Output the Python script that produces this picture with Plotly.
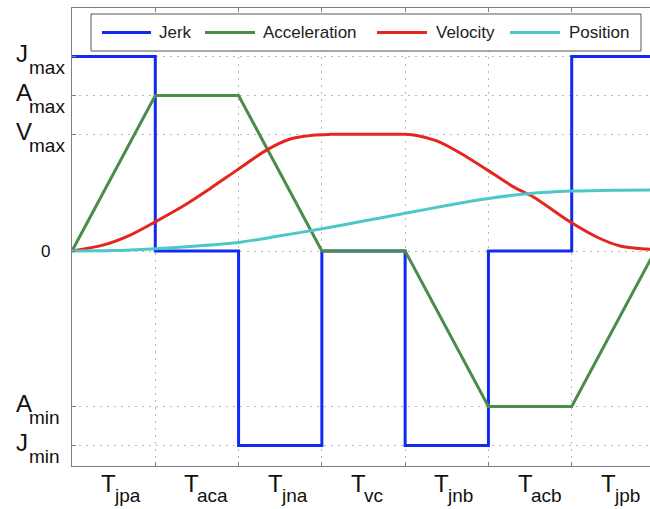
import plotly.graph_objects as go

# ---- data ----
segments = ["jpa", "aca", "jna", "vc", "jnb", "acb", "jpb"]
seg_bounds = [0, 1, 2, 3, 4, 5, 6, 7]

jerk_t = [0, 1, 2, 3, 4, 5, 6, 7]
jerk_v = [5, 0, -5, 0, -5, 0, 5, 5]

acc_t = [0, 1, 2, 3, 4, 5, 6, 7]
acc_v = [0, 4, 4, 0, 0, -4, -4, 0]

vel_t = [0, 0.37, 0.7, 1.0, 1.33, 1.66, 1.98, 2.34, 2.62, 2.89, 3.1, 3.6, 4.0,
         4.14, 4.38, 4.66, 4.99, 5.30, 5.54, 5.98, 6.30, 6.58, 6.9, 7.0]
vel_v = [0, 0.15, 0.41, 0.75, 1.15, 1.61, 2.08, 2.60, 2.88, 2.98, 3.0, 3.0, 3.0,
         2.97, 2.83, 2.52, 2.08, 1.65, 1.39, 0.75, 0.36, 0.13, 0.05, 0.04]

pos_t = [0, 0.5, 1, 1.5, 2, 2.5, 3, 3.5, 4, 4.5, 5, 5.5, 6, 6.5, 7]
pos_v = [0, 0.01, 0.06, 0.13, 0.22, 0.39, 0.57, 0.77, 0.97, 1.17, 1.35, 1.48, 1.54, 1.565, 1.57]

ytick_vals = [5, 4, 3, 0, -4, -5]
ytick_main = ["J", "A", "V", "0", "A", "J"]
ytick_sub = ["max", "max", "max", "", "min", "min"]

names = ["Jerk", "Acceleration", "Velocity", "Position"]
colors = ["#1229f2", "#4a8c4a", "#e5261f", "#4cc8c8"]

# ---- geometry ----
W, H = 650, 509
L, R, T, B = 72, 0, 8, 43
PW, PH = W - L - R, H - T - B
XR = [0, 6.94]
YR = [-5.53, 6.25]


def px(xp):
    return (xp - L) / PW


def py(yp):
    return (H - B - yp) / PH


fig = go.Figure()
fig.add_trace(go.Scatter(x=jerk_t, y=jerk_v, mode="lines", name=names[0],
                         line=dict(color=colors[0], width=3, shape="hv")))
fig.add_trace(go.Scatter(x=acc_t, y=acc_v, mode="lines", name=names[1],
                         line=dict(color=colors[1], width=3)))
fig.add_trace(go.Scatter(x=vel_t, y=vel_v, mode="lines", name=names[2],
                         line=dict(color=colors[2], width=3, shape="spline", smoothing=0.8)))
fig.add_trace(go.Scatter(x=pos_t, y=pos_v, mode="lines", name=names[3],
                         line=dict(color=colors[3], width=3, shape="spline", smoothing=0.8)))

annotations = []
shapes = []

FONT = "Liberation Sans, Arial, Helvetica, sans-serif"
TXT = "#111"

# y tick labels: main letter + subscript as separate texts
for v, m, s in zip(ytick_vals, ytick_main, ytick_sub):
    if s:
        annotations.append(dict(x=px(14), xref="paper", xanchor="left",
                                y=v, yref="y", yanchor="middle", yshift=3,
                                text=m, showarrow=False,
                                font=dict(family=FONT, size=24, color=TXT)))
        annotations.append(dict(x=px(27), xref="paper", xanchor="left",
                                y=v, yref="y", yanchor="middle", yshift=-11,
                                text=s, showarrow=False,
                                font=dict(family=FONT, size=19, color=TXT)))
    else:
        annotations.append(dict(x=px(45), xref="paper", xanchor="center",
                                y=v, yref="y", yanchor="middle",
                                text=m, showarrow=False,
                                font=dict(family=FONT, size=17, color=TXT)))

# x tick labels (segment names)
for i, s in enumerate(segments):
    c = (seg_bounds[i] + seg_bounds[i + 1]) / 2
    annotations.append(dict(x=c, xref="x", xanchor="left", xshift=-14.5,
                            y=0, yref="paper", yanchor="middle", yshift=-17.5,
                            text="T", showarrow=False,
                            font=dict(family=FONT, size=24, color=TXT)))
    annotations.append(dict(x=c, xref="x", xanchor="left", xshift=-1.5,
                            y=0, yref="paper", yanchor="middle", yshift=-29,
                            text=s, showarrow=False,
                            font=dict(family=FONT, size=19, color=TXT)))

# manual legend
shapes.append(dict(type="rect", xref="paper", yref="paper",
                   x0=px(91), x1=px(641), y0=py(51), y1=py(14),
                   fillcolor="white", line=dict(color="#555", width=1), layer="above"))
leg_line = [(102, 151), (205, 255), (377, 427), (510, 560)]
leg_text = [157, 261, 434, 567]
for (a, b), tx, nm, c in zip(leg_line, leg_text, names, colors):
    shapes.append(dict(type="line", xref="paper", yref="paper",
                       x0=px(a), x1=px(b), y0=py(32.5), y1=py(32.5),
                       line=dict(color=c, width=3), layer="above"))
    annotations.append(dict(x=px(tx), xref="paper", xanchor="left",
                            y=py(32.5), yref="paper", yanchor="middle",
                            text=nm, showarrow=False,
                            font=dict(family=FONT, size=17, color="#222")))

fig.update_layout(
    width=W, height=H,
    margin=dict(l=L, r=R, t=T, b=B, pad=0),
    paper_bgcolor="white", plot_bgcolor="white",
    showlegend=False,
    annotations=annotations, shapes=shapes,
    font=dict(family=FONT),
)
fig.update_xaxes(range=XR, tickvals=seg_bounds, showticklabels=False,
                 showgrid=True, gridcolor="#b8b8b8", griddash="2px,5px", gridwidth=1,
                 zeroline=False, showline=True, linecolor="#808080", linewidth=1,
                 mirror="ticks", ticks="inside", ticklen=4, tickcolor="#808080")
fig.update_yaxes(range=YR, tickvals=ytick_vals, showticklabels=False,
                 showgrid=True, gridcolor="#b8b8b8", griddash="2px,5px", gridwidth=1,
                 zeroline=False, showline=True, linecolor="#808080", linewidth=1,
                 mirror=False, ticks="inside", ticklen=4, tickcolor="#808080")

fig.write_html("out.html",
               config={"displayModeBar": False},
               post_script="document.body.style.margin='0';"
                           "document.body.style.overflow='hidden';")
